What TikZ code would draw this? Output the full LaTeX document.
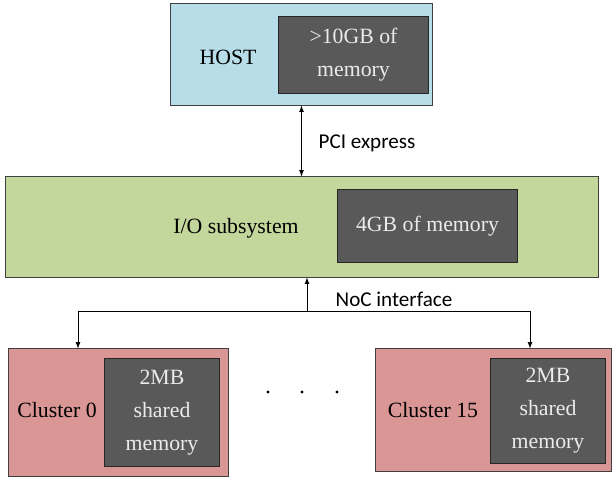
\documentclass[tikz,border=0pt]{standalone}
\usepackage{fontspec}
\setmainfont{Liberation Serif}
\newfontfamily\labelfont{Carlito}
\usetikzlibrary{positioning}

\definecolor{hostblue}{RGB}{183,221,232}
\definecolor{iogreen}{RGB}{195,214,155}
\definecolor{clusterred}{RGB}{217,150,148}
\definecolor{memgray}{RGB}{89,89,89}

\begin{document}
\begin{tikzpicture}[x=0.025cm, y=-0.025cm,
	box/.style={draw=black!75, line width=0.7pt, rectangle, inner sep=0pt},
	membox/.style={box, draw=black!85, fill=memgray, text=white!92!black, align=center,
		font=\fontsize{15.5}{23.5}\selectfont},
	boxtext/.style={font=\fontsize{15.5}{18}\selectfont},
	connlabel/.style={font=\labelfont\fontsize{15}{18}\selectfont},
	>=latex]

	\useasboundingbox (0,0) rectangle (613,479);

	%the host with its memory
	\node[box, fill=hostblue, minimum width=6.525cm, minimum height=2.525cm] (host) at (301.5,54.5) {};
	\node[membox, minimum width=3.725cm, minimum height=1.9cm] (hostmem) at (353.5,55) {>10GB of\\memory};
	\node[boxtext] (hostname) at (228,57) {HOST};

	%the I/O subsystem
	\node[box, fill=iogreen, minimum width=14.8cm, minimum height=2.5cm] (io) at (302,227) {};
	\node[membox, minimum width=4.475cm, minimum height=1.8cm] (iomem) at (427.5,226) {4GB of memory};
	\node[boxtext] (ioname) at (236,228) {I/O subsystem};

	%the clusters
	\node[box, fill=clusterred, minimum width=5.475cm, minimum height=3.175cm] (c0) at (118.5,412.5) {};
	\node[membox, minimum width=2.85cm, minimum height=2.675cm] (c0mem) at (162,412.5) {2MB\\shared\\memory};
	\node[boxtext] (c0name) at (57,410) {Cluster 0};
	\node[box, fill=clusterred, minimum width=5.875cm, minimum height=3.05cm] (c15) at (493.5,410) {};
	\node[membox, minimum width=2.85cm, minimum height=2.6cm] (c15mem) at (548,411) {2MB\\shared\\memory};
	\node[boxtext] (c15name) at (433,410) {Cluster 15};

	%the dots between the clusters
	\foreach \dx in {268,302,337}
		\fill (\dx,392) circle (1.6);

	%PCI express link
	\draw[<->, line width=0.6pt] (host.south) -- (host.south |- io.north);
	\node[connlabel] (pci) at (367,143) {PCI express};

	%NoC interface
	\coordinate (noc) at (307,311);
	\coordinate (nocleft) at (78,311);
	\coordinate (nocright) at (530,311);
	\draw[->, line width=0.6pt] (noc) -- (noc |- io.south);
	\draw[->, line width=0.6pt] (noc) -- (nocleft) -- (nocleft |- c0.north);
	\draw[->, line width=0.6pt] (noc) -- (nocright) -- (nocright |- c15.north);
	\node[connlabel] (noclabel) at (394,299) {NoC interface};

\end{tikzpicture}
\end{document}
